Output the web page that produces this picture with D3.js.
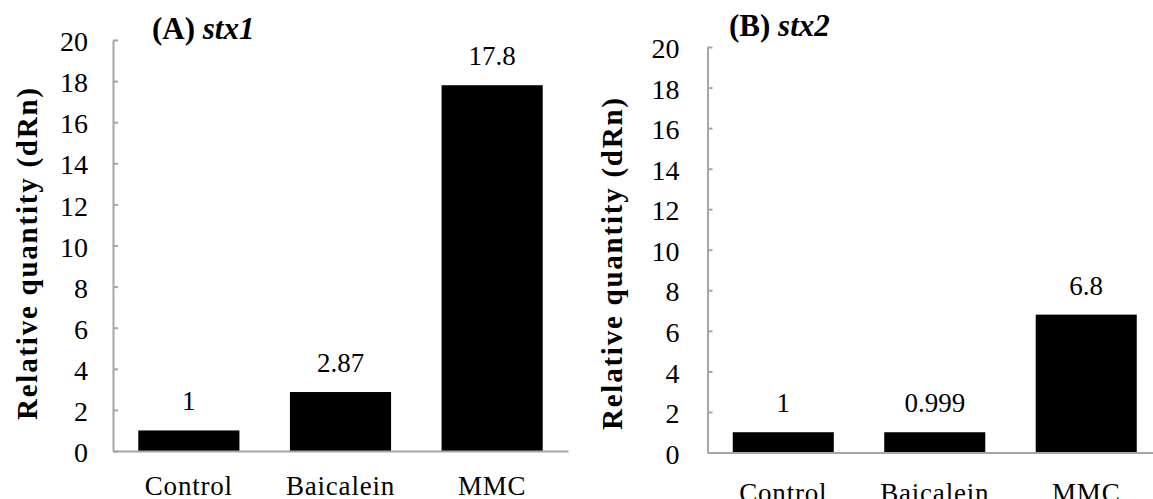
<!DOCTYPE html>
<html>
<head>
<meta charset="utf-8">
<script src="https://cdn.jsdelivr.net/npm/d3@7"></script>
<style>
  body { margin: 0; background: #fff; }
  svg { display: block; }
  svg text { font-family: "Liberation Serif", "Times New Roman", Times, serif; }
</style>
</head>
<body>
<div id="chart"></div>
<script>
const categories = ["Control", "Baicalein", "MMC"];
const stx1Values = [1, 2.87, 17.8];
const stx2Values = [1, 0.999, 6.8];
const stx1Labels = ["1", "2.87", "17.8"];
const stx2Labels = ["1", "0.999", "6.8"];
const yTicks = [0, 2, 4, 6, 8, 10, 12, 14, 16, 18, 20];
const yMax = 20;
const serif = "Liberation Serif, Times New Roman, serif";

const svg = d3.select("#chart")
    .append("svg")
    .attr("width", 1153)
    .attr("height", 499);

function barPanel(opts){
    const x = d3.scaleBand()
        .domain(categories)
        .range([opts.left, opts.right])
        .paddingInner(0.333)
        .paddingOuter(0.1667);

    const y = d3.scaleLinear()
        .domain([0, yMax])
        .range([opts.bottom, opts.top]);

    const g = svg.append("g");

    // y axis, ticks point inward
    const yAxis = g.append("g")
        .attr("transform", `translate(${opts.left},0)`)
        .call(d3.axisLeft(y).tickValues(yTicks).tickSizeInner(-5).tickSizeOuter(0).tickPadding(opts.tickPad))
        .attr("font-family", serif)
        .attr("font-size", null);
    yAxis.select(".domain").attr("stroke", "#a6a6a6").attr("stroke-width", 2);
    yAxis.selectAll(".tick line").attr("stroke", "#a6a6a6").attr("stroke-width", 2);
    yAxis.selectAll(".tick text")
        .attr("fill", "#000")
        .style("font-size", "28px")
        .attr("dy", "0.38em");

    g.selectAll("rect")
        .data(opts.values)
        .enter()
        .append("rect")
        .attr("x", (d, i) => x(categories[i]))
        .attr("y", d => y(d))
        .attr("width", x.bandwidth())
        .attr("height", d => y(0) - y(d))
        .attr("fill", "#000");

    // x axis
    const xAxis = g.append("g")
        .attr("transform", `translate(0,${opts.bottom})`)
        .call(d3.axisBottom(x).tickSize(0).tickPadding(opts.catPad))
        .attr("font-family", serif)
        .attr("font-size", null);
    xAxis.select(".domain").attr("stroke", "#a6a6a6").attr("stroke-width", 2);
    xAxis.selectAll(".tick text")
        .attr("fill", "#000")
        .style("font-size", "27px")
        .style("letter-spacing", "0.8px");

    g.selectAll(".val")
        .data(opts.values)
        .enter()
        .append("text")
        .attr("class", "val")
        .attr("x", (d, i) => x(categories[i]) + x.bandwidth() / 2)
        .attr("y", d => y(d) - 20)
        .attr("text-anchor", "middle")
        .style("font-size", "27px")
        .text((d, i) => opts.labels[i]);

    g.append("text")
        .attr("transform", `translate(${opts.labelX},${opts.labelY}) rotate(-90)`)
        .attr("text-anchor", "middle")
        .attr("dy", "0.35em")
        .attr("textLength", 332)
        .attr("lengthAdjust", "spacing")
        .style("font-size", "29px")
        .style("font-weight", "bold")
        .text("Relative quantity (dRn)");

    const title = g.append("text")
        .attr("x", opts.titleX)
        .attr("y", opts.titleY)
        .style("font-size", "31px")
        .style("font-weight", "bold");
    title.append("tspan").text(opts.letter + " ");
    title.append("tspan").style("font-style", "italic").text(opts.gene);
}

barPanel({
    values: stx1Values, labels: stx1Labels,
    left: 113, right: 568, top: 40, bottom: 451,
    tickPad: 25, catPad: 25,
    labelX: 27, labelY: 254,
    titleX: 152, titleY: 39, letter: "(A)", gene: "stx1"
});

barPanel({
    values: stx2Values, labels: stx2Labels,
    left: 707.5, right: 1162, top: 47, bottom: 452.5,
    tickPad: 28, catPad: 30,
    labelX: 612, labelY: 264,
    titleX: 729, titleY: 36, letter: "(B)", gene: "stx2"
});
</script>
</body>
</html>
